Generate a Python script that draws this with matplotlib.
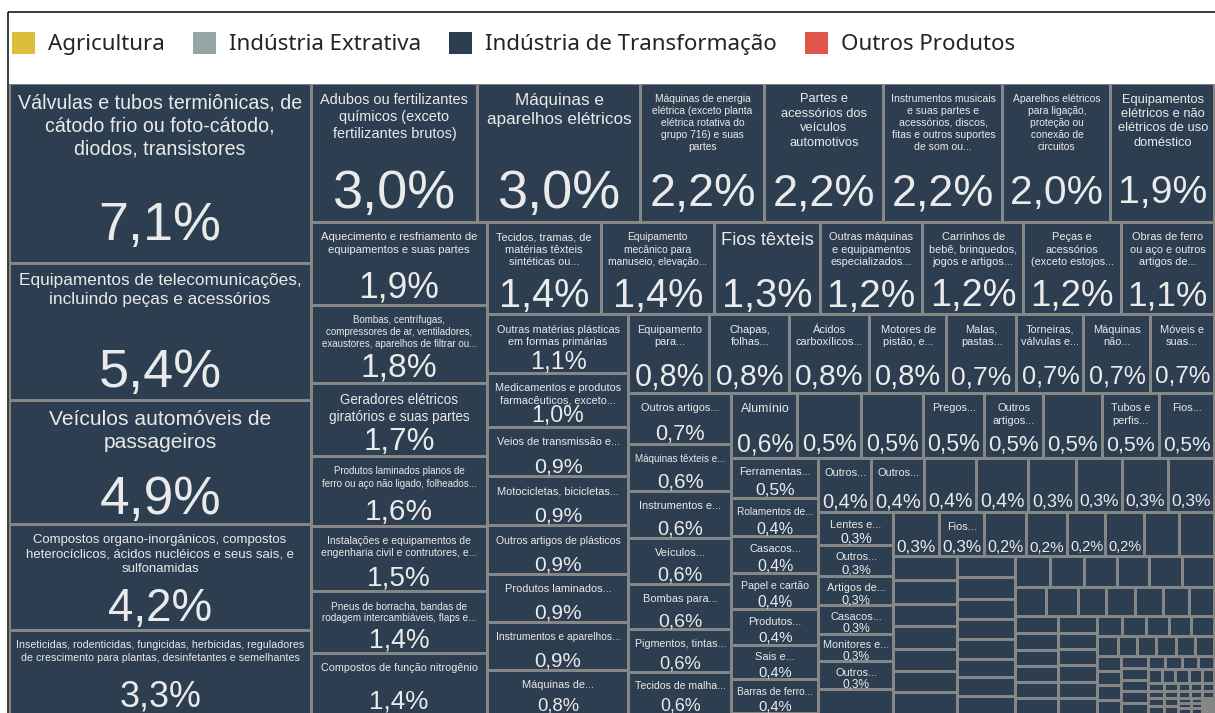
import matplotlib
matplotlib.use("Agg")
import matplotlib.pyplot as plt
from matplotlib.patches import Rectangle, Patch
from matplotlib.font_manager import FontProperties
from matplotlib.textpath import TextToPath

FIG_W, FIG_H, DPI = 1215, 713, 100

NAVY = "#2C3E50"
GRID = "#868686"
CELL_TEXT = "#EAEAEA"

LEGEND_NAMES = ["Agricultura", "Indústria Extrativa", "Indústria de Transformação", "Outros Produtos"]
LEGEND_COLORS = ["#DDBE3B", "#95A5A6", "#2C3E50", "#E0564A"]

# category names as shown in the cells (line breaks as in the chart)
LABELS = [
    # strip 1
    "Válvulas e tubos termiônicas, de\ncátodo frio ou foto-cátodo,\ndiodos, transistores",
    "Equipamentos de telecomunicações,\nincluindo peças e acessórios",
    "Veículos automóveis de\npassageiros",
    "Compostos organo-inorgânicos, compostos\nheterocíclicos, ácidos nucléicos e seus sais, e\nsulfonamidas",
    "Inseticidas, rodenticidas, fungicidas, herbicidas, reguladores\nde crescimento para plantas, desinfetantes e semelhantes",
    # strip 2
    "Adubos ou fertilizantes\nquímicos (exceto\nfertilizantes brutos)",
    "Máquinas e\naparelhos elétricos",
    "Máquinas de energia\nelétrica (exceto planta\nelétrica rotativa do\ngrupo 716) e suas\npartes",
    "Partes e\nacessórios dos\nveículos\nautomotivos",
    "Instrumentos musicais\ne suas partes e\nacessórios, discos,\nfitas e outros suportes\nde som ou...",
    "Aparelhos elétricos\npara ligação,\nproteção ou\nconexão de\ncircuitos",
    "Equipamentos\nelétricos e não\nelétricos de uso\ndoméstico",
    # strip 3
    "Aquecimento e resfriamento de\nequipamentos e suas partes",
    "Bombas, centrífugas,\ncompressores de ar, ventiladores,\nexaustores, aparelhos de filtrar ou...",
    "Geradores elétricos\ngiratórios e suas partes",
    "Produtos laminados planos de\nferro ou aço não ligado, folheados...",
    "Instalações e equipamentos de\nengenharia civil e contrutores, e...",
    "Pneus de borracha, bandas de\nrodagem intercambiáveis, flaps e...",
    "Compostos de função nitrogênio",
    # strip 4
    "Tecidos, tramas, de\nmatérias têxteis\nsintéticas ou...",
    "Equipamento\nmecânico para\nmanuseio, elevação...",
    "Fios têxteis",
    "Outras máquinas\ne equipamentos\nespecializados...",
    "Carrinhos de\nbebê, brinquedos,\njogos e artigos...",
    "Peças e\nacessórios\n(exceto estojos...",
    "Obras de ferro\nou aço e outros\nartigos de...",
    # strip 5
    "Outras matérias plásticas\nem formas primárias",
    "Medicamentos e produtos\nfarmacêuticos, exceto...",
    "Veios de transmissão e...",
    "Motocicletas, bicicletas...",
    "Outros artigos de plásticos",
    "Produtos laminados...",
    "Instrumentos e aparelhos...",
    "Máquinas de...",
    # strip 6
    "Equipamento\npara...",
    "Chapas,\nfolhas...",
    "Ácidos\ncarboxílicos...",
    "Motores de\npistão, e...",
    "Malas,\npastas...",
    "Torneiras,\nválvulas e...",
    "Máquinas\nnão...",
    "Móveis e\nsuas...",
    # strip 7
    "Outros artigos...",
    "Máquinas têxteis e...",
    "Instrumentos e...",
    "Veículos...",
    "Bombas para...",
    "Pigmentos, tintas...",
    "Tecidos de malha...",
    # strip 8
    "Alumínio", "", "", "Pregos...", "Outros\nartigos...", "", "Tubos e\nperfis...", "Fios...",
    # strip 9
    "Ferramentas...", "Rolamentos de...", "Casacos...", "Papel e cartão",
    "Produtos...", "Sais e...", "Barras de ferro...",
    # strip 10
    "Outros...", "Outros...", "", "", "", "", "", "",
    # strip 11
    "Lentes e...", "Outros...", "Artigos de...", "Casacos...", "Monitores e...", "Outros...", "",
    # strip 12
    "", "Fios...", "", "", "", "", "", "",
]

# share of exports (%)
MAIN_VALUES = [
    7.1, 5.4, 4.9, 4.2, 3.3,
    3.02, 2.96, 2.24, 2.17, 2.16, 1.96, 1.88,
    1.9, 1.8, 1.68, 1.6, 1.5, 1.42, 1.4,
    1.38, 1.37, 1.28, 1.24, 1.22, 1.18, 1.13,
    1.08, 1.0, 0.92, 0.91, 0.9, 0.9, 0.89, 0.8,
    0.83, 0.82, 0.82, 0.79, 0.72, 0.69, 0.68, 0.66,
    0.68, 0.64, 0.63, 0.62, 0.61, 0.57, 0.56,
    0.56, 0.54, 0.52, 0.52, 0.5, 0.5, 0.48, 0.47,
    0.46, 0.43, 0.42, 0.41, 0.40, 0.39, 0.39,
    0.38, 0.38, 0.37, 0.37, 0.34, 0.33, 0.33, 0.33,
    0.32, 0.30, 0.29, 0.28, 0.27, 0.27, 0.24,
    0.26, 0.26, 0.24, 0.23, 0.22, 0.22, 0.2, 0.2,
]

# small unlabeled products in the bottom right corner
TAIL_VALUES = [
    0.2, 0.2, 0.19, 0.19, 0.18, 0.18, 0.18,
    0.16, 0.16, 0.15, 0.15, 0.15, 0.14, 0.14, 0.13,
    0.14, 0.14, 0.13, 0.13, 0.13, 0.13,
    0.12, 0.12, 0.11, 0.11, 0.105, 0.10, 0.095,
    0.095, 0.095, 0.09, 0.09, 0.09, 0.09,
    0.085, 0.085, 0.083, 0.083, 0.082, 0.082,
    0.065, 0.065, 0.06, 0.06, 0.06,
    0.055, 0.05, 0.05, 0.05, 0.05, 0.05,
    0.046, 0.045, 0.045, 0.044,
    0.042, 0.04, 0.04, 0.04, 0.038,
    0.03, 0.028, 0.028, 0.027,
    0.025, 0.024, 0.024, 0.023, 0.022,
    0.016, 0.016, 0.016, 0.016,
    0.014, 0.014, 0.014, 0.014,
    0.012, 0.012, 0.012,
    0.011, 0.011, 0.011,
    0.009, 0.009, 0.009,
    0.008, 0.008, 0.008,
    0.006, 0.006, 0.006, 0.006,
]

# how the squarified layout cuts the area: strip orientation and item count
STRIP_DIRS = "VHVHVHVHVHVH" + "VVHHVVHHVVHH" + "VVHHVVH"
STRIP_SIZES = [5, 7, 7, 7, 8, 8, 7, 8, 7, 8, 7, 8,
               7, 8, 6, 7, 6, 6, 5, 6, 4, 5, 4, 5,
               4, 4, 3, 3, 3, 3, 4]

T2P = TextToPath()
CELL_FONT = FontProperties(family="Liberation Sans", size=100)


def em_width(s):
    w, _, _ = T2P.get_text_width_height_descent(s, CELL_FONT, ismath=False)
    return w / 100.0


def squarify(values, x, y, w, h):
    scale = w * h / sum(values)
    rects = []
    i = 0
    for d, n in zip(STRIP_DIRS, STRIP_SIZES):
        chunk = values[i:i + n]
        s = sum(chunk)
        if d == "V":
            cw = s * scale / h
            yy = y
            for v in chunk:
                ch = v * scale / cw
                rects.append((x, yy, cw, ch))
                yy += ch
            x += cw
            w -= cw
        else:
            rh = s * scale / w
            xx = x
            for v in chunk:
                cw = v * scale / rh
                rects.append((xx, y, cw, rh))
                xx += cw
            y += rh
            h -= rh
        i += n
    return rects


def pt(px):
    return px * 72.0 / DPI


def main():
    values = MAIN_VALUES + TAIL_VALUES
    labels = LABELS + [""] * (len(values) - len(LABELS))

    fig = plt.figure(figsize=(FIG_W / DPI, FIG_H / DPI), dpi=DPI)
    fig.patch.set_facecolor("white")
    ax = fig.add_axes([0, 0, 1, 1])
    ax.set_xlim(0, FIG_W)
    ax.set_ylim(FIG_H, 0)
    ax.axis("off")

    # treemap area (pixels)
    x0, y0, tw, th = 9.0, 83.5, 1205.5, 630.5
    ax.add_patch(Rectangle((x0, y0), tw, th, facecolor=GRID, edgecolor="none"))

    gap = 1.5
    rects = squarify(values, x0, y0, tw, th)
    for (x, y, w, h), v, lab in zip(rects, values, labels):
        ax.add_patch(Rectangle((x + gap, y + gap), w - 2 * gap, h - 2 * gap,
                               facecolor=NAVY, edgecolor="none"))
        cx = x + w / 2

        txt = f"{v:.1f}".replace(".", ",") + "%"
        vem = em_width(txt)
        vfs = min(54, 0.43 * h, 0.86 * w / vem)

        if lab:
            lines = lab.split("\n")
            em = max(em_width(line) for line in lines)
            wlim = (w - min(20, 0.12 * w)) / em
            hlim = 0.47 * h / (len(lines) * 1.27)
            if lab.endswith("..."):
                fs = min(11, wlim)
            else:
                fs = min(21, wlim, hlim, max(10.5, 0.5 * vfs))
            if fs >= 7:
                top = y + min(9, 0.18 * h) + 1
                ax.text(cx, top, lab, ha="center", va="top", multialignment="center",
                        fontsize=pt(fs), color=CELL_TEXT, family="Liberation Sans",
                        linespacing=1.27)

        # value labels are dropped when the cell is too small
        if h >= 25.5 and w >= 37.5:
            ax.text(cx, y + 0.76 * h + 0.36 * vfs, txt, ha="center", va="baseline",
                    fontsize=pt(vfs), color=CELL_TEXT, family="Liberation Sans")

    # outer frame of the visual
    ax.add_patch(Rectangle((7.5, 12), 1300, 800, fill=False, edgecolor="black",
                           linewidth=pt(1.5)))

    handles = [Patch(facecolor=c, edgecolor="none") for c in LEGEND_COLORS]
    fig.legend(handles, LEGEND_NAMES, loc="upper left",
               bbox_to_anchor=(12 / FIG_W, 1 - 32 / FIG_H), ncol=4, frameon=False,
               prop=FontProperties(family="Noto Sans", size=pt(22.3)),
               handlelength=1.03, handleheight=1.12, handletextpad=0.58,
               columnspacing=1.26, borderaxespad=0, borderpad=0, labelcolor="#252423")

    fig.savefig("out.png", dpi=DPI)


if __name__ == "__main__":
    main()
